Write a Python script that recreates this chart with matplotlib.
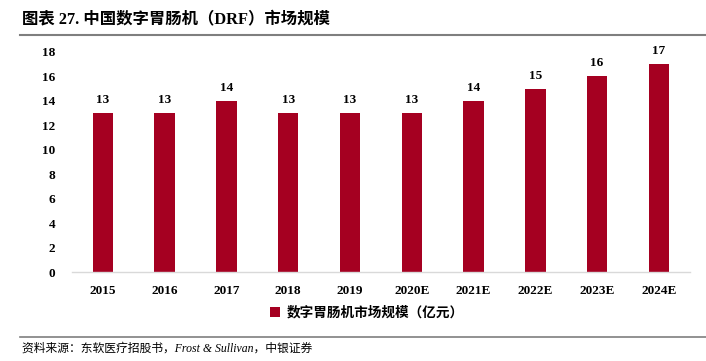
import matplotlib
matplotlib.use("Agg")
import matplotlib.pyplot as plt
from matplotlib.lines import Line2D
from matplotlib.patches import Patch

categories = ["2015", "2016", "2017", "2018", "2019", "2020E", "2021E", "2022E", "2023E", "2024E"]
values = [13, 13, 14, 13, 13, 13, 14, 15, 16, 17]
yticks = [0, 2, 4, 6, 8, 10, 12, 14, 16, 18]
title = "图表 27. 中国数字胃肠机（DRF）市场规模"
legend_label = "数字胃肠机市场规模（亿元）"
source = "资料来源：东软医疗招股书，Frost & Sullivan，中银证券"

RED = "#A50021"
serif = ["Liberation Serif", "Noto Sans CJK SC"]

fig = plt.figure(figsize=(7.06, 3.61), dpi=100)
ax = fig.add_axes([0.102, 0.2465, 0.875, 0.6095])
x = list(range(len(categories)))
bars = ax.bar(x, values, width=0.33, color=RED)
ax.set_xlim(-0.5, len(categories) - 0.5)
ax.set_ylim(0, 18)
ax.set_yticks(yticks)
ax.set_xticks(x)
ax.set_xticklabels(categories, fontfamily=serif, fontweight="bold", fontsize=9.5)
ax.set_yticklabels([str(t) for t in yticks], fontfamily=serif, fontweight="bold", fontsize=9.5)
for s in ["top", "right", "left"]:
    ax.spines[s].set_visible(False)
ax.spines["bottom"].set_color("#D9D9D9")
ax.spines["bottom"].set_linewidth(1.0)
ax.tick_params(axis="both", length=0)
ax.tick_params(axis="x", pad=9)
ax.tick_params(axis="y", pad=12)
for xi, v in zip(x, values):
    ax.annotate(str(v), (xi, v), xytext=(0, 5), textcoords="offset points",
                ha="center", va="bottom", fontfamily=serif, fontweight="bold", fontsize=9.5)

handle = Patch(facecolor=RED, edgecolor="none")
leg = fig.legend([handle], [legend_label], loc="center", bbox_to_anchor=(0.52, 0.133),
                 frameon=False, handlelength=0.7, handleheight=0.7, handletextpad=0.5,
                 prop={"family": serif, "weight": "bold", "size": 9.8})

fig.text(0.031, 0.945, title, fontfamily=serif, fontweight="bold", fontsize=11.8, va="center", ha="left")
fig.add_artist(Line2D([0.028, 1.0], [0.902, 0.902], color="#7F7F7F", linewidth=1.5))
fig.add_artist(Line2D([0.028, 1.0], [0.066, 0.066], color="#7F7F7F", linewidth=1.2))
fig.text(0.031, 0.033, source, fontfamily=serif, style="italic", fontsize=8.5, va="center", ha="left")

fig.savefig("out.png", dpi=100)
